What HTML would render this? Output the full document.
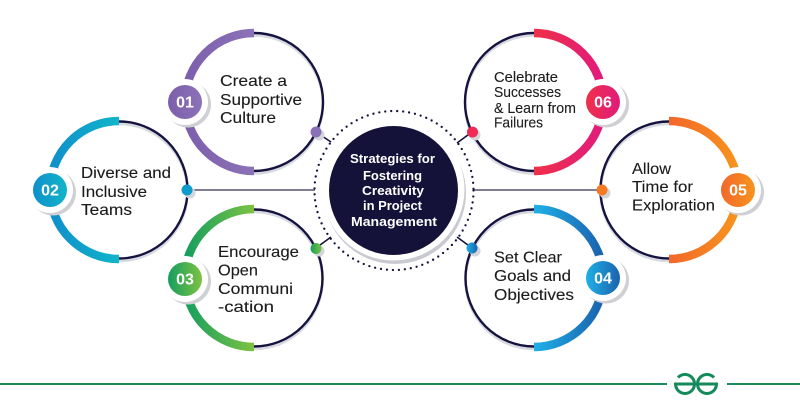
<!DOCTYPE html>
<html>
<head>
<meta charset="utf-8">
<style>
html,body{margin:0;padding:0;background:#fff;width:800px;height:401px;overflow:hidden}
svg{display:block}
text{font-family:"Liberation Sans",sans-serif}
.t{fill:#1c1c1c;font-size:16px;stroke:#1c1c1c;stroke-width:.12px}
.s{fill:#1c1c1c;font-size:14.5px;stroke:#1c1c1c;stroke-width:.12px}
.n{fill:#fff;font-size:16px;font-weight:bold;text-anchor:middle}
.c{fill:#fff;font-size:13px;font-weight:bold}
</style>
</head>
<body>
<svg width="800" height="401" viewBox="0 0 800 401" xmlns="http://www.w3.org/2000/svg">
<defs>
<linearGradient id="g1" x1="0" y1="0" x2="1" y2="0"><stop offset="0" stop-color="#7c5fab"/><stop offset="1" stop-color="#8c72b8"/></linearGradient>
<linearGradient id="g2" x1="0" y1="0" x2="1" y2="0"><stop offset="0" stop-color="#0f8fca"/><stop offset="1" stop-color="#11b5c9"/></linearGradient>
<linearGradient id="g3" x1="0" y1="0" x2="1" y2="0"><stop offset="0" stop-color="#159e5f"/><stop offset="1" stop-color="#7dc242"/></linearGradient>
<linearGradient id="g4" x1="0" y1="0" x2="1" y2="0"><stop offset="0" stop-color="#1fb0e8"/><stop offset="1" stop-color="#1b62ad"/></linearGradient>
<linearGradient id="g5" x1="0" y1="0" x2="1" y2="0"><stop offset="0" stop-color="#f2672b"/><stop offset="1" stop-color="#f7941d"/></linearGradient>
<linearGradient id="g6" x1="0" y1="0" x2="1" y2="0"><stop offset="0" stop-color="#ef3049"/><stop offset="1" stop-color="#e01b7c"/></linearGradient>
</defs>

<!-- connectors -->
<g stroke="#15123a" stroke-width="1.6" fill="none">
<line x1="187" y1="190" x2="315" y2="190" stroke="#55536e"/>
<line x1="473" y1="190" x2="602" y2="190" stroke="#55536e"/>
<line x1="316" y1="132" x2="331" y2="142"/>
<line x1="472" y1="132" x2="457" y2="143"/>
<line x1="316" y1="248" x2="331" y2="237"/>
<line x1="472" y1="248" x2="457" y2="237"/>
</g>

<!-- ring shadows -->
<g fill="none" stroke="#d6d9e0" stroke-width="2.5">
<circle cx="254" cy="104.500" r="69"/>
<circle cx="119" cy="192.500" r="68.500"/>
<circle cx="254" cy="280.500" r="68.500"/>
<circle cx="534" cy="280.500" r="68.500"/>
<circle cx="669" cy="192.500" r="68.500"/>
<circle cx="534" cy="104.500" r="69"/>
</g>
<!-- thin rings -->
<g fill="none" stroke="#15123f" stroke-width="2.400">
<circle cx="254" cy="102" r="69"/>
<circle cx="119" cy="190" r="68.500"/>
<circle cx="254" cy="278" r="68.500"/>
<circle cx="534" cy="278" r="68.500"/>
<circle cx="669" cy="190" r="68.500"/>
<circle cx="534" cy="102" r="69"/>
</g>
<!-- thick half arcs -->
<g fill="none" stroke-width="8.500">
<path d="M254 33 A69 69 0 0 0 254 171" stroke="url(#g1)"/>
<path d="M119 121 A69 69 0 0 0 119 259" stroke="url(#g2)"/>
<path d="M254 209 A69 69 0 0 0 254 347" stroke="url(#g3)"/>
<path d="M534 209 A69 69 0 0 1 534 347" stroke="url(#g4)"/>
<path d="M669 121 A69 69 0 0 1 669 259" stroke="url(#g5)"/>
<path d="M534 33 A69 69 0 0 1 534 171" stroke="url(#g6)"/>
</g>

<!-- badges -->
<g fill="#cfd0d4">
<circle cx="188" cy="104.500" r="23"/>
<circle cx="53" cy="192.500" r="23"/>
<circle cx="188" cy="281.500" r="23"/>
<circle cx="606" cy="280.500" r="23"/>
<circle cx="741" cy="192.500" r="23"/>
<circle cx="606" cy="104.500" r="23"/>
</g>
<g fill="#fff">
<circle cx="185" cy="102" r="23"/>
<circle cx="50" cy="190" r="23"/>
<circle cx="185" cy="279" r="23"/>
<circle cx="603" cy="278" r="23"/>
<circle cx="738" cy="190" r="23"/>
<circle cx="603" cy="102" r="23"/>
</g>
<circle cx="185" cy="102" r="17" fill="url(#g1)"/>
<circle cx="50" cy="190" r="17" fill="url(#g2)"/>
<circle cx="185" cy="279" r="17" fill="url(#g3)"/>
<circle cx="603" cy="278" r="17" fill="url(#g4)"/>
<circle cx="738" cy="190" r="17" fill="url(#g5)"/>
<circle cx="603" cy="102" r="17" fill="url(#g6)"/>
<text class="n" x="185" y="107.500">01</text>
<text class="n" x="50" y="195.500">02</text>
<text class="n" x="185" y="284.500">03</text>
<text class="n" x="603" y="283.500">04</text>
<text class="n" x="738" y="195.500">05</text>
<text class="n" x="603" y="107.500">06</text>

<!-- small dots -->
<g fill="#d4d5da">
<circle cx="319" cy="135" r="5.500"/>
<circle cx="190" cy="193" r="5.500"/>
<circle cx="319" cy="251" r="5.500"/>
<circle cx="475" cy="251" r="5.500"/>
<circle cx="605" cy="193" r="5.500"/>
<circle cx="475" cy="135" r="5.500"/>
</g>
<circle cx="316" cy="132" r="5.500" fill="#8a70b6"/>
<circle cx="187" cy="190" r="5.500" fill="#0f9ccb"/>
<circle cx="316" cy="248.500" r="5.500" fill="url(#g3)"/>
<circle cx="472" cy="248" r="5.500" fill="url(#g4)"/>
<circle cx="602" cy="190" r="5.500" fill="#f47a26"/>
<circle cx="472.500" cy="132" r="5.500" fill="#ee2a55"/>

<!-- centre -->
<circle cx="394" cy="190.500" r="79.500" fill="none" stroke="#15123a" stroke-width="2.300" stroke-linecap="round" stroke-dasharray="0 5.995"/>
<circle cx="395" cy="193" r="71" fill="#c9cad0"/>
<circle cx="393.500" cy="189.500" r="71" fill="#fff"/>
<circle cx="393.500" cy="190.500" r="64.500" fill="#15123a"/>
<text class="c" x="350" y="163" textLength="85" lengthAdjust="spacingAndGlyphs">Strategies for</text>
<text class="c" x="363" y="180" textLength="59" lengthAdjust="spacingAndGlyphs">Fostering</text>
<text class="c" x="362" y="195" textLength="62" lengthAdjust="spacingAndGlyphs">Creativity</text>
<text class="c" x="363" y="210" textLength="59" lengthAdjust="spacingAndGlyphs">in Project</text>
<text class="c" x="351" y="226" textLength="86" lengthAdjust="spacingAndGlyphs">Management</text>

<!-- labels -->
<text class="t" x="220" y="86" textLength="67" lengthAdjust="spacingAndGlyphs">Create a</text>
<text class="t" x="220" y="105" textLength="82" lengthAdjust="spacingAndGlyphs">Supportive</text>
<text class="t" x="220" y="123" textLength="56" lengthAdjust="spacingAndGlyphs">Culture</text>

<text class="t" x="81" y="178" textLength="90" lengthAdjust="spacingAndGlyphs">Diverse and</text>
<text class="t" x="81" y="197" textLength="66" lengthAdjust="spacingAndGlyphs">Inclusive</text>
<text class="t" x="81" y="215" textLength="51" lengthAdjust="spacingAndGlyphs">Teams</text>

<text class="t" x="218" y="257" textLength="81" lengthAdjust="spacingAndGlyphs">Encourage</text>
<text class="t" x="218" y="275.500" textLength="40" lengthAdjust="spacingAndGlyphs">Open</text>
<text class="t" x="218" y="294" textLength="75" lengthAdjust="spacingAndGlyphs">Communi</text>
<text class="t" x="218" y="312" textLength="56" lengthAdjust="spacingAndGlyphs">-cation</text>

<text class="t" x="494" y="262.500" textLength="68" lengthAdjust="spacingAndGlyphs">Set Clear</text>
<text class="t" x="494" y="281" textLength="77" lengthAdjust="spacingAndGlyphs">Goals and</text>
<text class="t" x="494" y="300" textLength="80" lengthAdjust="spacingAndGlyphs">Objectives</text>

<text class="t" x="632" y="174" textLength="39" lengthAdjust="spacingAndGlyphs">Allow</text>
<text class="t" x="632" y="192" textLength="61" lengthAdjust="spacingAndGlyphs">Time for</text>
<text class="t" x="632" y="210.500" textLength="83" lengthAdjust="spacingAndGlyphs">Exploration</text>

<text class="s" x="494" y="82" textLength="64" lengthAdjust="spacingAndGlyphs">Celebrate</text>
<text class="s" x="494" y="97" textLength="67" lengthAdjust="spacingAndGlyphs">Successes</text>
<text class="s" x="494" y="113" textLength="82" lengthAdjust="spacingAndGlyphs">&amp; Learn from</text>
<text class="s" x="494" y="127.500" textLength="49" lengthAdjust="spacingAndGlyphs">Failures</text>

<!-- footer -->
<rect x="0" y="383" width="667" height="2" fill="#1a8a5c"/>
<rect x="727" y="383" width="73" height="2" fill="#1a8a5c"/>
<g fill="none" stroke="#148a5b" stroke-width="3">
<path d="M678 377.500 A9.500 9.500 0 0 1 694.500 384 H675.500 A9.500 9.500 0 0 0 694.500 384"/>
<path d="M714 377.500 A9.500 9.500 0 0 0 697.500 384 H716.500 A9.500 9.500 0 0 1 697.500 384"/>
</g>
</svg>
</body>
</html>
